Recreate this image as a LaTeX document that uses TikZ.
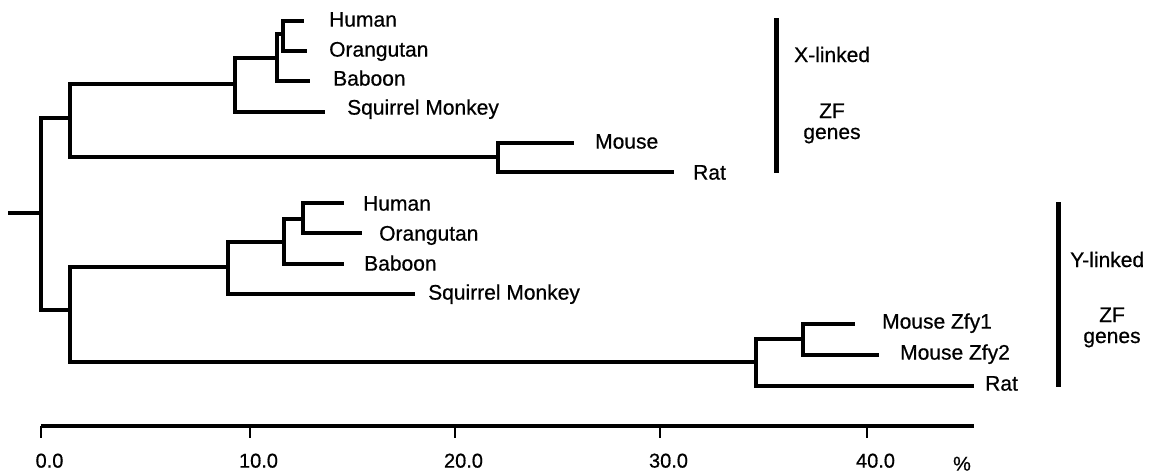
\documentclass[tikz,border=0pt]{standalone}
\usepackage{fontspec}
\setmainfont[FakeBold=0.6]{Liberation Sans}
\begin{document}
\begin{tikzpicture}[x=1pt,y=-1pt,
  branch/.style={line width=3.2pt, line cap=rect},
  groupbar/.style={line width=5pt},
  lab/.style={anchor=west, inner sep=0pt, font=\fontsize{21}{25}\selectfont,
              text height=0.72em, text depth=0pt},
  side/.style={inner sep=0pt, font=\fontsize{21}{25}\selectfont},
  ticklab/.style={inner sep=0pt, font=\fontsize{20}{24}\selectfont,
                  text height=0.72em, text depth=0pt}]
\useasboundingbox (0,0) rectangle (1161,474);

% ---- internal nodes (where each vertical bar is joined by its parent) ----
\coordinate (stub) at (10,213);
\coordinate (root) at (41,213);
\coordinate (xall) at (70,118);
\coordinate (xpri) at (235,84);
\coordinate (xcat) at (277,58);
\coordinate (xhom) at (283,34);
\coordinate (xrod) at (498,157);
\coordinate (yall) at (70,310);
\coordinate (ypri) at (228,267);
\coordinate (ycat) at (284,242);
\coordinate (yhom) at (303,219);
\coordinate (yrod) at (756,362);
\coordinate (ymus) at (803,339);

% ---- branch tips ----
\coordinate (xhumt) at (302,21);
\coordinate (xorat) at (305,51);
\coordinate (xbabt) at (308,81);
\coordinate (xsqmt) at (323,112);
\coordinate (xmout) at (572,143);
\coordinate (xratt) at (672,172);
\coordinate (yhumt) at (342,203);
\coordinate (yorat) at (360,233);
\coordinate (ybabt) at (342,264);
\coordinate (ysqmt) at (413,294);
\coordinate (yz1t) at (853,324);
\coordinate (yz2t) at (877,355);
\coordinate (yratt) at (972,386);

% ---- tree ----
\draw[branch] (stub) -- (root);
\draw[branch] (root) |- (xall);
\draw[branch] (root) |- (yall);
\draw[branch] (xall) |- (xpri);
\draw[branch] (xall) |- (xrod);
\draw[branch] (xpri) |- (xcat);
\draw[branch] (xpri) |- (xsqmt);
\draw[branch] (xcat) |- (xhom);
\draw[branch] (xcat) |- (xbabt);
\draw[branch] (xhom) |- (xhumt);
\draw[branch] (xhom) |- (xorat);
\draw[branch] (xrod) |- (xmout);
\draw[branch] (xrod) |- (xratt);
\draw[branch] (yall) |- (ypri);
\draw[branch] (yall) |- (yrod);
\draw[branch] (ypri) |- (ycat);
\draw[branch] (ypri) |- (ysqmt);
\draw[branch] (ycat) |- (yhom);
\draw[branch] (ycat) |- (ybabt);
\draw[branch] (yhom) |- (yhumt);
\draw[branch] (yhom) |- (yorat);
\draw[branch] (yrod) |- (ymus);
\draw[branch] (yrod) |- (yratt);
\draw[branch] (ymus) |- (yz1t);
\draw[branch] (ymus) |- (yz2t);

% ---- leaf labels ----
\node[lab] (xhum) at (329,23) {Human};
\node[lab] (xora) at (329,53) {Orangutan};
\node[lab] (xbab) at (333,82) {Baboon};
\node[lab] (xsqm) at (347,111) {Squirrel Monkey};
\node[lab] (xmou) at (595,145) {Mouse};
\node[lab] (xrat) at (693,176) {Rat};
\node[lab] (yhum) at (363,207) {Human};
\node[lab] (yora) at (379,237) {Orangutan};
\node[lab] (ybab) at (364,267) {Baboon};
\node[lab] (ysqm) at (428,296) {Squirrel Monkey};
\node[lab] (yz1) at (882,325) {Mouse Zfy1};
\node[lab] (yz2) at (900,356) {Mouse Zfy2};
\node[lab] (yrat) at (985,387) {Rat};

% ---- group bars and their captions ----
\coordinate (xbartop) at (776,18);
\coordinate (xbarbot) at (776,173);
\coordinate (ybartop) at (1058.5,202);
\coordinate (ybarbot) at (1058.5,387);
\draw[groupbar] (xbartop) -- (xbarbot);
\draw[groupbar] (ybartop) -- (ybarbot);
\node[side, anchor=base west] (xlk) at (794,62) {X-linked};
\node[side, anchor=base] (xzf) at (832,118) {ZF};
\node[side, anchor=base] (xgn) at (832,139) {genes};
\node[side, anchor=base west] (ylk) at (1070,267) {Y-linked};
\node[side, anchor=base] (yzf) at (1112,322) {ZF};
\node[side, anchor=base] (ygn) at (1112,343) {genes};

% ---- scale axis (percent divergence) ----
\coordinate (axl) at (41,426);
\coordinate (axr) at (974,426);
\draw[branch, line cap=butt] (axl) -- (axr);
\foreach \v/\px in {0/41, 10/250, 20/455, 30/660, 40/867} {
  \coordinate (tk\v) at (\px,426);
  \draw[line width=2.8pt] (tk\v) -- ++(0,12);
  \node[ticklab] (tl\v) at (\px+8.5,464) {\v.0};
}
\node[ticklab] (pct) at (962,467) {\%};
\end{tikzpicture}
\end{document}
